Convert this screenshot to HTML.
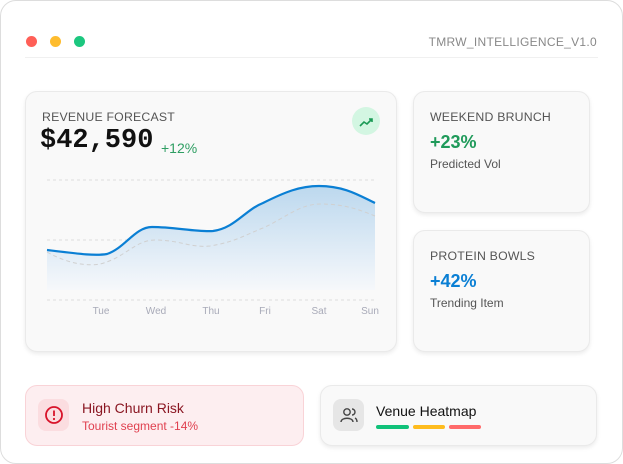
<!DOCTYPE html><html><head><style>
*{margin:0;padding:0;box-sizing:border-box}
body{width:623px;height:464px;background:#fff;font-family:"Liberation Sans",sans-serif;position:relative;overflow:hidden}
.frame{position:absolute;left:0;top:0;width:623px;height:464px;border:1px solid #ddd;border-radius:16px;background:#fff}
.dot{position:absolute;top:36px;width:11px;height:11px;border-radius:50%}
.card{position:absolute;background:#f9f9f9;border:1px solid #eaeaea;border-radius:12px;box-shadow:0 2px 4px rgba(0,0,0,.08)}
.lbl{position:absolute;font-size:12.3px;color:#555;letter-spacing:.2px}
.ax{position:absolute;top:306px;font-size:10px;color:#a8aab8;transform:translateX(-50%)}
</style></head><body>
<div class="frame"></div>
<div class="dot" style="left:26px;background:#ff5f57"></div>
<div class="dot" style="left:50px;background:#febc2e"></div>
<div class="dot" style="left:74px;background:#1cc77f"></div>
<div style="position:absolute;right:26px;top:35px;font-size:12px;color:#888;letter-spacing:.3px">TMRW_INTELLIGENCE_V1.0</div>
<div style="position:absolute;left:25px;right:25px;top:57px;border-top:1px solid #f0f0f0"></div>

<div class="card" style="left:25px;top:91px;width:372px;height:261px"></div>
<div class="lbl" style="left:42px;top:110px">REVENUE FORECAST</div>
<div style="position:absolute;left:40px;top:126px;font-family:'Liberation Mono',monospace;font-size:27px;font-weight:bold;color:#111">$42,590</div>
<div style="position:absolute;left:161px;top:140px;font-size:14px;color:#2e9e62">+12%</div>
<div style="position:absolute;left:352px;top:107px;width:28px;height:28px;border-radius:50%;background:#d3f6e2"></div>
<svg style="position:absolute;left:0;top:0" width="623" height="464">
<path d="M360 126 L364 122 L367 124 L372 119 M369 119 L372 119 L372 122" stroke="#1a9a55" stroke-width="1.6" fill="none"/>
<defs><linearGradient id="g" x1="0" y1="0" x2="0" y2="1"><stop offset="0" stop-color="#bcd8ee"/><stop offset="1" stop-color="#f6f8fb"/></linearGradient></defs>
<g stroke="#ddd" stroke-dasharray="3 3"><line x1="47" y1="180" x2="375" y2="180"/><line x1="47" y1="240" x2="375" y2="240"/><line x1="47" y1="270" x2="375" y2="270"/><line x1="47" y1="300" x2="375" y2="300"/></g>
<path d="M47 250 C80 254 95 256 107 254 C125 248 135 227 152 227 C175 227 195 232 213 231 C235 228 245 210 263 203 C285 192 300 186 319 186 C345 186 360 196 375 203 L375 290 L47 290Z" fill="url(#g)"/>
<path d="M47 252 C70 265 90 266 100 264 C125 258 135 240 155 240 C180 240 190 248 210 246 C235 242 245 235 263 228 C285 218 300 204 320 204 C345 204 360 210 375 216" stroke="#d0d0d0" stroke-dasharray="4 3" fill="none"/>
<path d="M47 250 C80 254 95 256 107 254 C125 248 135 227 152 227 C175 227 195 232 213 231 C235 228 245 210 263 203 C285 192 300 186 319 186 C345 186 360 196 375 203" stroke="#0a7fd4" stroke-width="2.2" fill="none"/>
</svg>
<div class="ax" style="left:101px">Tue</div><div class="ax" style="left:156px">Wed</div><div class="ax" style="left:211px">Thu</div><div class="ax" style="left:265px">Fri</div><div class="ax" style="left:319px">Sat</div><div class="ax" style="left:370px">Sun</div>

<div class="card" style="left:413px;top:91px;width:177px;height:122px"></div>
<div class="lbl" style="left:430px;top:110px">WEEKEND BRUNCH</div>
<div style="position:absolute;left:430px;top:132px;font-size:18px;font-weight:bold;color:#1f9a5a">+23%</div>
<div style="position:absolute;left:430px;top:157px;font-size:12px;color:#555">Predicted Vol</div>

<div class="card" style="left:413px;top:230px;width:177px;height:122px"></div>
<div class="lbl" style="left:430px;top:249px">PROTEIN BOWLS</div>
<div style="position:absolute;left:430px;top:271px;font-size:18px;font-weight:bold;color:#0a7fd4">+42%</div>
<div style="position:absolute;left:430px;top:296px;font-size:12px;color:#555">Trending Item</div>

<div style="position:absolute;left:25px;top:385px;width:279px;height:61px;background:#fdeef0;border:1px solid #f9d3d7;border-radius:12px"></div>
<div style="position:absolute;left:38px;top:399px;width:31px;height:32px;background:#fbdde0;border-radius:8px"></div>
<svg style="position:absolute;left:43px;top:404px" width="22" height="22"><circle cx="11" cy="11" r="8" stroke="#d8132a" stroke-width="1.8" fill="none"/><line x1="11" y1="6.5" x2="11" y2="12" stroke="#d8132a" stroke-width="1.8"/><circle cx="11" cy="15" r="1.1" fill="#d8132a"/></svg>
<div style="position:absolute;left:82px;top:400px;font-size:14px;color:#8a1622">High Churn Risk</div>
<div style="position:absolute;left:82px;top:419px;font-size:12px;color:#e0404f">Tourist segment -14%</div>

<div class="card" style="left:320px;top:385px;width:277px;height:61px"></div>
<div style="position:absolute;left:333px;top:399px;width:31px;height:32px;background:#e6e6e6;border-radius:8px"></div>
<svg style="position:absolute;left:338px;top:404px" width="22" height="22"><circle cx="9" cy="8" r="3.2" stroke="#444" stroke-width="1.4" fill="none"/><path d="M3 18 C3 13 15 13 15 18" stroke="#444" stroke-width="1.4" fill="none"/><path d="M14 5 A3 3 0 0 1 14 11 M17 14 C19 15 19 17 19 18" stroke="#444" stroke-width="1.4" fill="none"/></svg>
<div style="position:absolute;left:376px;top:403px;font-size:14px;color:#111">Venue Heatmap</div>
<div style="position:absolute;left:376px;top:425px;width:33px;height:4px;border-radius:2px;background:#11c27a"></div>
<div style="position:absolute;left:413px;top:425px;width:32px;height:4px;border-radius:2px;background:#febc1e"></div>
<div style="position:absolute;left:449px;top:425px;width:32px;height:4px;border-radius:2px;background:#ff6a6a"></div>
</body></html>
